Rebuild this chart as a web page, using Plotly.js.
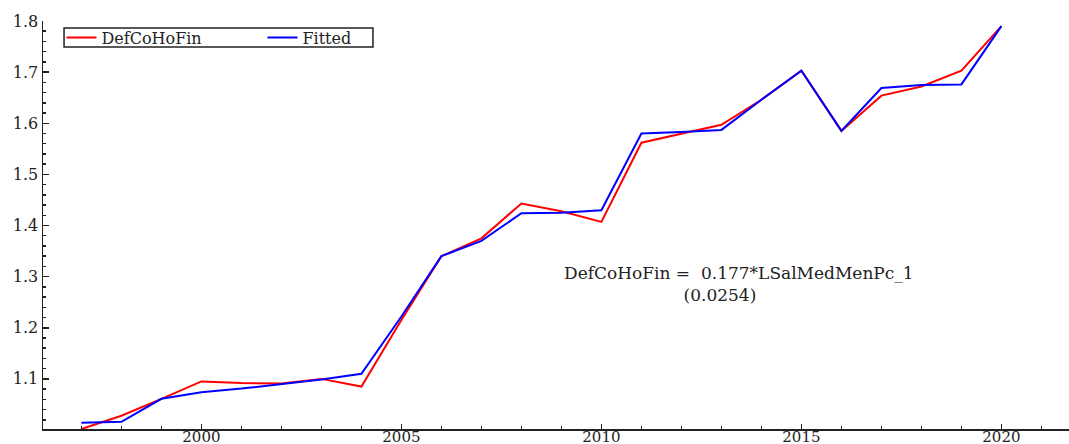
<!DOCTYPE html>
<html>
<head>
<meta charset="utf-8">
<script src="https://cdn.plot.ly/plotly-3.0.1.min.js"></script>
<style>html,body{margin:0;padding:0;background:#fff;}#chart{width:1069px;height:444px;}</style>
</head>
<body>
<div id="chart"></div>
<script>
const years = [1997,1998,1999,2000,2001,2002,2003,2004,2005,2006,2007,2008,2009,2010,2011,2012,2013,2014,2015,2016,2017,2018,2019,2020];
const defCoHoFin = [1.002,1.028,1.061,1.095,1.092,1.091,1.100,1.085,1.215,1.340,1.375,1.443,1.428,1.407,1.562,1.580,1.597,1.646,1.703,1.585,1.654,1.672,1.703,1.790];
const fitted = [1.014,1.016,1.061,1.074,1.081,1.090,1.099,1.110,1.222,1.340,1.370,1.424,1.425,1.430,1.580,1.583,1.587,1.646,1.703,1.585,1.669,1.675,1.676,1.790];
const seriesNames = ["DefCoHoFin", "Fitted"];
const equationText = "DefCoHoFin =  0.177*LSalMedMenPc_1";
const stdErrText = "(0.0254)";

const font = "DejaVu Serif";
const textColor = "#222";
const nb = "&nbsp;";

const traces = [
  {x: years, y: defCoHoFin, name: seriesNames[0], type: "scatter", mode: "lines",
   line: {color: "#ff0000", width: 2}},
  {x: years, y: fitted, name: seriesNames[1], type: "scatter", mode: "lines",
   line: {color: "#0000ff", width: 2}}
];

const layout = {
  width: 1069, height: 444,
  margin: {l: 43, r: 0, t: 21, b: 15, pad: 0},
  paper_bgcolor: "#fff", plot_bgcolor: "#fff",
  font: {family: font, size: 16, color: textColor},
  showlegend: true,
  legend: {
    orientation: "h", x: 0.018, y: 0.9596, xanchor: "left", yanchor: "middle",
    bgcolor: "rgba(0,0,0,0)", borderwidth: 0,
    entrywidth: 156, entrywidthmode: "pixels",
    font: {family: font, size: 16, color: textColor},
    tracegroupgap: 0
  },
  shapes: [
    {type: "rect", xref: "paper", yref: "paper", x0: 0.0205, x1: 0.3216, y0: 0.936, y1: 0.983,
     line: {color: "#222", width: 1.5}, fillcolor: "#fff", layer: "above"}
  ],
  xaxis: {
    range: [1996.04, 2021.69],
    tickmode: "linear", tick0: 2000, dtick: 5,
    ticks: "inside", ticklen: 5, tickwidth: 1.5, tickcolor: "#222",
    minor: {dtick: 1, tick0: 2000, ticks: "inside", ticklen: 3, tickcolor: "#222", tickwidth: 1.5},
    showline: true, linecolor: "#222", linewidth: 1.5,
    showgrid: false, zeroline: false,
    ticklabelstandoff: -7,
    tickfont: {family: font, size: 15, color: textColor}
  },
  yaxis: {
    range: [1.002, 1.8],
    tickmode: "linear", tick0: 1.0, dtick: 0.1,
    ticks: "inside", ticklen: 6, tickwidth: 1.5, tickcolor: "#222",
    minor: {dtick: 0.02, tick0: 1.0, ticks: "inside", ticklen: 3, tickcolor: "#222", tickwidth: 1.5},
    showline: true, linecolor: "#222", linewidth: 1.5,
    showgrid: false, zeroline: false,
    tickformat: ".1f",
    tickfont: {family: font, size: 16, color: textColor}
  },
  annotations: [
    {x: 2013.44, y: 1.285, xref: "x", yref: "y", showarrow: false, align: "center",
     text: equationText + "<br>" + stdErrText + nb.repeat(7),
     font: {family: font, size: 17, color: textColor}}
  ]
};

Plotly.newPlot("chart", traces, layout, {displayModeBar: false, staticPlot: true});
</script>
</body>
</html>
